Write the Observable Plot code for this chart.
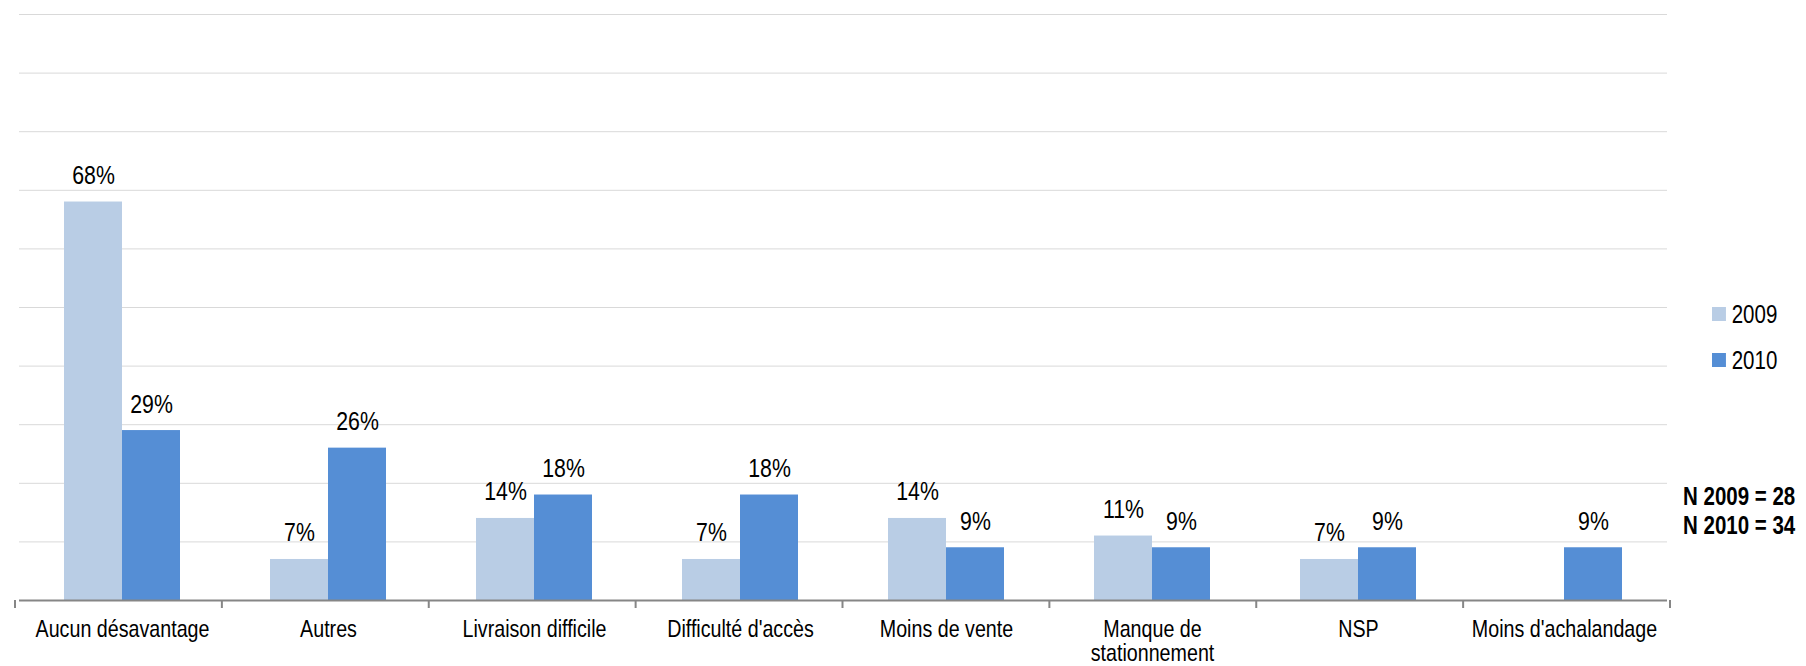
<!DOCTYPE html>
<html>
<head>
<meta charset="utf-8">
<script src="https://cdn.jsdelivr.net/npm/d3@7"></script>
<script src="https://cdn.jsdelivr.net/npm/@observablehq/plot@0.6"></script>
<style>
  html, body { margin: 0; padding: 0; background: #fff; }
  #wrap { position: relative; width: 1806px; height: 666px; font-family: "Liberation Sans", Arial, sans-serif; color: #000; }
  #chart { position: absolute; left: 0; top: 0; }
  .leg { position: absolute; left: 1712px; display: flex; align-items: center; font-size: 25px; height: 30px; transform: scaleX(0.82); transform-origin: 0 50%; }
  .sw { width: 17px; height: 14px; margin-right: 7px; }
  .n { position: absolute; left: 1683px; font-size: 25px; font-weight: bold; line-height: 30px; white-space: nowrap; transform: scaleX(0.82); transform-origin: 0 50%; }
</style>
</head>
<body>
<div id="wrap">
  <div id="chart"></div>
</div>
<script>
const categories = ["Aucun désavantage", "Autres", "Livraison difficile", "Difficulté d'accès", "Moins de vente", "Manque de stationnement", "NSP", "Moins d'achalandage"];
const tickLabels = ["Aucun désavantage", "Autres", "Livraison difficile", "Difficulté d'accès", "Moins de vente", "Manque de\nstationnement", "NSP", "Moins d'achalandage"];
const years = ["2009", "2010"];
const values2009 = [68, 7, 14, 7, 14, 11, 7, null];
const values2010 = [29, 26, 18, 18, 9, 9, 9, 9];
const colors = ["#B9CDE5", "#558ED5"];
const nLabels = ["N 2009 = 28", "N 2010 = 34"];
const gridTicks = [10, 20, 30, 40, 50, 60, 70, 80, 90, 100];

const series = [values2009, values2010];
const data = [];
categories.forEach((c, i) => {
  years.forEach((y, j) => {
    const v = series[j][i];
    if (v != null) data.push({category: c, year: y, value: v});
  });
});
const labelOf = new Map(categories.map((c, i) => [c, tickLabels[i]]));

const font = '"Liberation Sans", Arial, sans-serif';

const plot = Plot.plot({
  width: 1806,
  height: 666,
  marginLeft: 15,
  marginRight: 136,
  marginTop: 14,
  marginBottom: 66,
  style: {fontFamily: font, fontSize: "24px", color: "#000", background: "#fff", overflow: "visible"},
  fx: {domain: categories, padding: 0, label: null, tickSize: 0, tickPadding: 19, tickFormat: d => labelOf.get(d)},
  x: {domain: years, paddingInner: 0, paddingOuter: 0.746, axis: null},
  y: {domain: [0, 100], axis: null},
  color: {domain: years, range: colors},
  marks: [
    Plot.ruleY(gridTicks, {stroke: "#d9d9d9", strokeWidth: 1}),
    Plot.barY(data, {fx: "category", x: "year", y: "value", fill: "year"}),
    Plot.ruleY([0], {stroke: "#868686", strokeWidth: 2}),
    Plot.text(data, {fx: "category", x: "year", y: "value", text: d => d.value + "%", lineAnchor: "bottom", dy: -18, fontSize: 26, fill: "#000"})
  ]
});

document.getElementById("chart").appendChild(plot);

// narrow the type (the reference uses a narrow face) around each text's own anchor
d3.select(plot).selectAll("text").each(function() {
  const t = this.getAttribute("transform") || "";
  this.setAttribute("transform", (t + " scale(0.82,1)").trim());
});

// category boundary tick marks on the bottom axis, from Plot's own scales
const fxs = plot.scale("fx");
const ys = plot.scale("y");
const n = fxs.domain.length;
const step = (fxs.range[1] - fxs.range[0]) / n;
const bounds = d3.range(n + 1).map(i => fxs.range[0] + i * step);
const y0 = ys.apply(0);
d3.select(plot).append("g")
  .selectAll("line").data(bounds).join("line")
  .attr("x1", d => d).attr("x2", d => d)
  .attr("y1", y0).attr("y2", y0 + 8)
  .attr("stroke", "#868686").attr("stroke-width", 2);

// legend
const wrap = document.getElementById("wrap");
years.forEach((y, i) => {
  const row = document.createElement("div");
  row.className = "leg";
  row.style.top = (299 + i * 46) + "px";
  row.innerHTML = `<div class="sw" style="background:${colors[i]}"></div><span>${y}</span>`;
  wrap.appendChild(row);
});
nLabels.forEach((t, i) => {
  const d = document.createElement("div");
  d.className = "n";
  d.style.top = (481 + i * 29) + "px";
  d.textContent = t;
  wrap.appendChild(d);
});
</script>
</body>
</html>
